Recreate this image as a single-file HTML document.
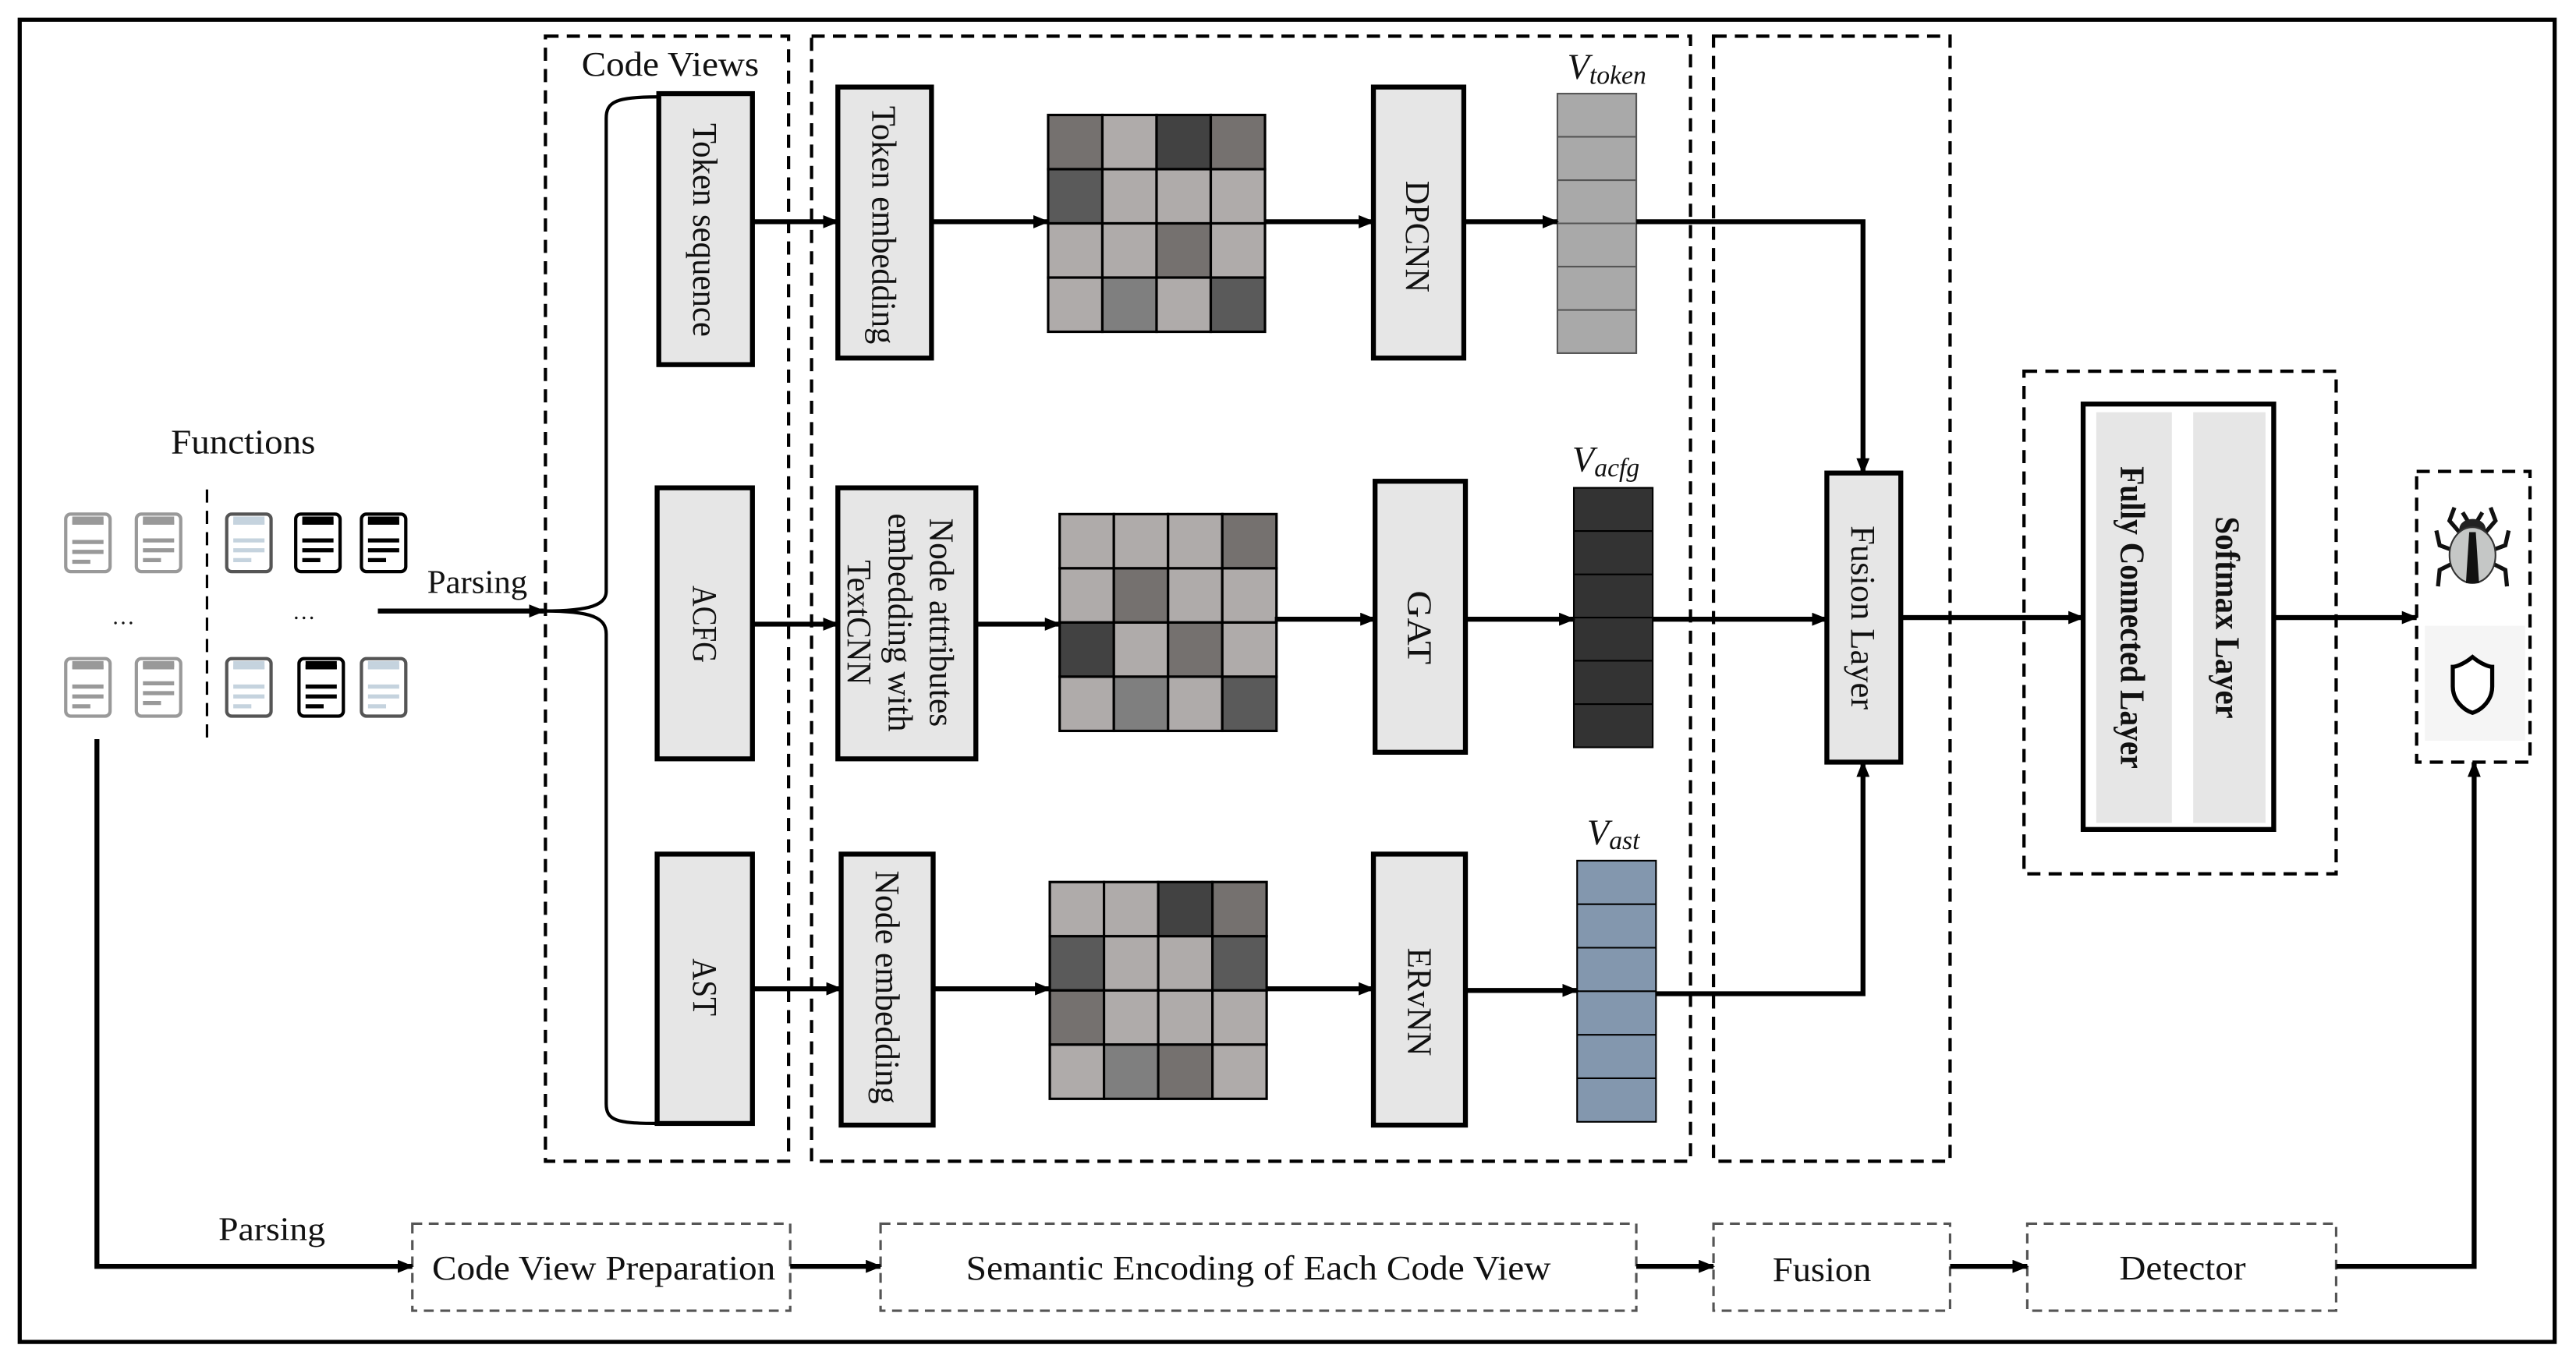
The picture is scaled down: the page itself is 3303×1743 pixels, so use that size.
<!DOCTYPE html>
<html><head><meta charset="utf-8"><style>html,body{margin:0;padding:0;background:#fff}svg{display:block}text{font-family:"Liberation Serif",serif;fill:#111}</style></head>
<body>
<svg width="3303" height="1743" viewBox="0 0 1568 827.4" preserveAspectRatio="none" xmlns="http://www.w3.org/2000/svg">
<defs>
<marker id="a" markerWidth="10" markerHeight="8" refX="9" refY="4" orient="auto" markerUnits="userSpaceOnUse"><path d="M0,0 L10,4 L0,8 z" fill="#000"/></marker>
</defs>
<rect x="12" y="12" width="1543" height="805" fill="none" stroke="#000" stroke-width="2.5"/>

<g fill="none" stroke="#000" stroke-width="2" stroke-dasharray="8,5">
<rect x="332" y="22" width="148" height="685"/>
<rect x="494" y="22" width="535" height="685"/>
<rect x="1043" y="22" width="144" height="685"/>
<rect x="1232" y="226" width="190" height="306"/>
<rect x="1471" y="287" width="69" height="177"/>
</g>
<g fill="none" stroke="#555" stroke-width="1.5" stroke-dasharray="6,4">
<rect x="251" y="745" width="230" height="53"/>
<rect x="536" y="745" width="460" height="53"/>
<rect x="1043" y="745" width="144" height="53"/>
<rect x="1234" y="745" width="188" height="53"/>
</g>
<line x1="126" y1="298" x2="126" y2="452" stroke="#000" stroke-width="1.5" stroke-dasharray="8,5"/>

<g font-size="21" lengthAdjust="spacingAndGlyphs">
<text x="354" y="46" textLength="108" lengthAdjust="spacingAndGlyphs">Code Views</text>
<text x="104" y="276" textLength="88" lengthAdjust="spacingAndGlyphs">Functions</text>
<text x="260" y="361" font-size="20" textLength="61" lengthAdjust="spacingAndGlyphs">Parsing</text>
<text x="133" y="755" font-size="20" textLength="65" lengthAdjust="spacingAndGlyphs">Parsing</text>
</g>
<text x="75" y="380" font-size="14" text-anchor="middle">…</text>
<text x="185" y="377" font-size="14" text-anchor="middle">…</text>

<g stroke-width="2" fill="#fff">
<g stroke="#999"><rect x="40" y="313" width="27" height="35" rx="3"/><rect x="83" y="313" width="27" height="35" rx="3"/><rect x="40" y="401" width="27" height="35" rx="3"/><rect x="83" y="401" width="27" height="35" rx="3"/></g>
<g stroke="#555"><rect x="138" y="313" width="27" height="35" rx="3"/><rect x="138" y="401" width="27" height="35" rx="3"/><rect x="220" y="401" width="27" height="35" rx="3"/></g>
<g stroke="#000"><rect x="180" y="313" width="27" height="35" rx="3"/><rect x="220" y="313" width="27" height="35" rx="3"/><rect x="182" y="401" width="27" height="35" rx="3"/></g>
</g>
<g stroke-width="2.5">
<g stroke="#999"><path d="M44,318h19M44,330h19M44,336h19M44,342h11M87,318h19M87,329h19M87,335h19M87,341h11M44,406h19M44,418h19M44,424h19M44,430h11M87,405h19M87,416h19M87,422h19M87,428h11"/></g>
<g stroke="#c5d3de"><path d="M142,318h19M142,329h19M142,335h19M142,341h11M142,406h19M142,418h19M142,424h19M142,430h11M224,406h19M224,418h19M224,424h19M224,430h11"/></g>
<g stroke="#000"><path d="M184,318h19M184,329h19M184,335h19M184,341h11M224,318h19M224,329h19M224,335h19M224,341h11M186,406h19M186,418h19M186,424h19M186,430h11"/></g>
</g>
<g stroke="#999" stroke-width="5"><path d="M44,317h19M87,317h19M44,405h19M87,405h19"/></g>
<g stroke="#c5d3de" stroke-width="5"><path d="M142,317h19M142,405h19M224,405h19"/></g>
<g stroke="#000" stroke-width="5"><path d="M184,317h19M224,317h19M186,405h19"/></g>

<path d="M400,59 C375,59 369,62 369,72 L369,360 C369,368 360,372 331,372 C360,372 369,376 369,386 L369,672 C369,682 375,684 400,684" fill="none" stroke="#000" stroke-width="2"/>

<g fill="#e6e6e6" stroke="#000" stroke-width="3">
<rect x="401" y="57" width="57" height="165"/>
<rect x="400" y="297" width="58" height="165"/>
<rect x="400" y="520" width="58" height="164"/>
<rect x="510" y="53" width="57" height="165"/>
<rect x="510" y="297" width="84" height="165"/>
<rect x="512" y="520" width="56" height="165"/>
<rect x="836" y="53" width="55" height="165"/>
<rect x="837" y="293" width="55" height="165"/>
<rect x="836" y="520" width="56" height="165"/>
<rect x="1112" y="288" width="45" height="176"/>
</g>
<rect x="1268" y="246" width="116" height="259" fill="#fff" stroke="#000" stroke-width="3"/>
<rect x="1276" y="251" width="46" height="250" fill="#e6e6e6"/>
<rect x="1335" y="251" width="44" height="250" fill="#e6e6e6"/>

<g font-size="21" text-anchor="middle">
<text transform="translate(429,140) rotate(90)" dy="7" textLength="130" lengthAdjust="spacingAndGlyphs">Token sequence</text>
<text transform="translate(429,380) rotate(90)" dy="7" textLength="47" lengthAdjust="spacingAndGlyphs">ACFG</text>
<text transform="translate(429,601) rotate(90)" dy="7" textLength="35" lengthAdjust="spacingAndGlyphs">AST</text>
<text transform="translate(538,137) rotate(90)" dy="7" textLength="145" lengthAdjust="spacingAndGlyphs">Token embedding</text>
<text transform="translate(573,379) rotate(90)" dy="7" textLength="127" lengthAdjust="spacingAndGlyphs">Node attributes</text>
<text transform="translate(548,379) rotate(90)" dy="7" textLength="133" lengthAdjust="spacingAndGlyphs">embedding with</text>
<text transform="translate(523,379) rotate(90)" dy="7" textLength="76" lengthAdjust="spacingAndGlyphs">TextCNN</text>
<text transform="translate(540,601) rotate(90)" dy="7" textLength="142" lengthAdjust="spacingAndGlyphs">Node embedding</text>
<text transform="translate(863,144) rotate(90)" dy="7" textLength="68" lengthAdjust="spacingAndGlyphs">DPCNN</text>
<text transform="translate(864,382) rotate(90)" dy="7" textLength="45" lengthAdjust="spacingAndGlyphs">GAT</text>
<text transform="translate(864,610) rotate(90)" dy="7" textLength="66" lengthAdjust="spacingAndGlyphs">ERvNN</text>
<text transform="translate(1134,376) rotate(90)" dy="7" textLength="112" lengthAdjust="spacingAndGlyphs">Fusion Layer</text>
<text transform="translate(1299,376) rotate(90)" dy="8" font-weight="bold" textLength="184" lengthAdjust="spacingAndGlyphs">Fully Connected Layer</text>
<text transform="translate(1357,376) rotate(90)" dy="8" font-weight="bold" textLength="123" lengthAdjust="spacingAndGlyphs">Softmax  Layer</text>
</g>

<g stroke="#000" stroke-width="1.5">
<g transform="translate(638,70)">
<rect x="0" y="0" width="33" height="33" fill="#75716f"/><rect x="33" y="0" width="33" height="33" fill="#afabaa"/><rect x="66" y="0" width="33" height="33" fill="#424242"/><rect x="99" y="0" width="33" height="33" fill="#75716f"/>
<rect x="0" y="33" width="33" height="33" fill="#5a5a5a"/><rect x="33" y="33" width="33" height="33" fill="#afabaa"/><rect x="66" y="33" width="33" height="33" fill="#afabaa"/><rect x="99" y="33" width="33" height="33" fill="#afabaa"/>
<rect x="0" y="66" width="33" height="33" fill="#afabaa"/><rect x="33" y="66" width="33" height="33" fill="#afabaa"/><rect x="66" y="66" width="33" height="33" fill="#75716f"/><rect x="99" y="66" width="33" height="33" fill="#afabaa"/>
<rect x="0" y="99" width="33" height="33" fill="#afabaa"/><rect x="33" y="99" width="33" height="33" fill="#7f7f7f"/><rect x="66" y="99" width="33" height="33" fill="#afabaa"/><rect x="99" y="99" width="33" height="33" fill="#5a5a5a"/>
</g>
<g transform="translate(645,313)">
<rect x="0" y="0" width="33" height="33" fill="#afabaa"/><rect x="33" y="0" width="33" height="33" fill="#afabaa"/><rect x="66" y="0" width="33" height="33" fill="#afabaa"/><rect x="99" y="0" width="33" height="33" fill="#75716f"/>
<rect x="0" y="33" width="33" height="33" fill="#afabaa"/><rect x="33" y="33" width="33" height="33" fill="#75716f"/><rect x="66" y="33" width="33" height="33" fill="#afabaa"/><rect x="99" y="33" width="33" height="33" fill="#afabaa"/>
<rect x="0" y="66" width="33" height="33" fill="#424242"/><rect x="33" y="66" width="33" height="33" fill="#afabaa"/><rect x="66" y="66" width="33" height="33" fill="#75716f"/><rect x="99" y="66" width="33" height="33" fill="#afabaa"/>
<rect x="0" y="99" width="33" height="33" fill="#afabaa"/><rect x="33" y="99" width="33" height="33" fill="#7f7f7f"/><rect x="66" y="99" width="33" height="33" fill="#afabaa"/><rect x="99" y="99" width="33" height="33" fill="#5a5a5a"/>
</g>
<g transform="translate(639,537)">
<rect x="0" y="0" width="33" height="33" fill="#afabaa"/><rect x="33" y="0" width="33" height="33" fill="#afabaa"/><rect x="66" y="0" width="33" height="33" fill="#424242"/><rect x="99" y="0" width="33" height="33" fill="#75716f"/>
<rect x="0" y="33" width="33" height="33" fill="#5a5a5a"/><rect x="33" y="33" width="33" height="33" fill="#afabaa"/><rect x="66" y="33" width="33" height="33" fill="#afabaa"/><rect x="99" y="33" width="33" height="33" fill="#5a5a5a"/>
<rect x="0" y="66" width="33" height="33" fill="#75716f"/><rect x="33" y="66" width="33" height="33" fill="#afabaa"/><rect x="66" y="66" width="33" height="33" fill="#afabaa"/><rect x="99" y="66" width="33" height="33" fill="#afabaa"/>
<rect x="0" y="99" width="33" height="33" fill="#afabaa"/><rect x="33" y="99" width="33" height="33" fill="#7f7f7f"/><rect x="66" y="99" width="33" height="33" fill="#75716f"/><rect x="99" y="99" width="33" height="33" fill="#afabaa"/>
</g>
</g>

<g stroke="#555" stroke-width="1">
<rect x="948" y="57" width="48" height="158" fill="#a9a9a9"/>
<path d="M948,83.3h48M948,109.7h48M948,136h48M948,162.3h48M948,188.7h48"/>
</g>
<g stroke="#000" stroke-width="1">
<rect x="958" y="297" width="48" height="158" fill="#333"/>
<path d="M958,323.3h48M958,349.7h48M958,376h48M958,402.3h48M958,428.7h48"/>
<rect x="960" y="524" width="48" height="159" fill="#8397ae"/>
<path d="M960,550.5h48M960,577h48M960,603.5h48M960,630h48M960,656.5h48"/>
</g>
<text x="954" y="48" font-size="22" font-style="italic">V<tspan font-size="16" dy="3">token</tspan></text>
<text x="957" y="287" font-size="22" font-style="italic">V<tspan font-size="16" dy="3">acfg</tspan></text>
<text x="966" y="514" font-size="22" font-style="italic">V<tspan font-size="16" dy="3">ast</tspan></text>

<g stroke="#000" stroke-width="3" fill="none" marker-end="url(#a)">
<path d="M230,372H331"/>
<path d="M458,135H510"/><path d="M567,135H638"/><path d="M770,135H836"/><path d="M891,135H948"/>
<path d="M996,135H1134V288"/>
<path d="M458,380H510"/><path d="M594,380H645"/><path d="M776,377H837"/><path d="M892,377H958"/>
<path d="M1006,377H1112"/>
<path d="M458,602H512"/><path d="M568,602H639"/><path d="M771,602H836"/><path d="M892,603H960"/>
<path d="M1008,605H1134V464"/>
<path d="M1157,376H1268"/><path d="M1384,376H1471"/>
<path d="M59,450V771H251"/><path d="M481,771H536"/><path d="M996,771H1043"/><path d="M1187,771H1234"/>
<path d="M1422,771H1506V464"/>
</g>

<g font-size="21">
<text x="263" y="779" textLength="209" lengthAdjust="spacingAndGlyphs">Code View Preparation</text>
<text x="588" y="779" textLength="356" lengthAdjust="spacingAndGlyphs">Semantic Encoding of Each Code View</text>
<text x="1079" y="780" textLength="60" lengthAdjust="spacingAndGlyphs">Fusion</text>
<text x="1290" y="779" textLength="77" lengthAdjust="spacingAndGlyphs">Detector</text>
</g>

<g transform="translate(1505,337)">
<g stroke="#111" stroke-width="2.5" fill="none">
<path d="M-8,-13 L-14,-20 L-11,-28"/><path d="M8,-13 L14,-20 L11,-28"/>
<path d="M-12,-2 L-20,-5 L-22,-14"/><path d="M12,-2 L20,-5 L22,-14"/>
<path d="M-12,6 L-20,10 L-21,20"/><path d="M12,6 L20,10 L21,20"/>
<path d="M-3,-20 L-6,-25"/><path d="M3,-20 L6,-25"/>
</g>
<ellipse cx="0" cy="-15" rx="8" ry="6" fill="#222"/>
<ellipse cx="0" cy="1" rx="14" ry="17" fill="#c5c7c6" stroke="#333" stroke-width="1"/>
<path d="M-2,-13 L2,-13 L4,18 L-4,18 z" fill="#111"/>
</g>
<rect x="1476" y="381" width="61" height="70" fill="#f5f5f5"/>
<path d="M1505,400 C1499,405 1494,406 1493,406 L1493,418 C1493,426 1499,432 1505,434 C1511,432 1517,426 1517,418 L1517,406 C1516,406 1511,405 1505,400 z" fill="#fff" stroke="#000" stroke-width="2.5"/>
</svg>
</body></html>
